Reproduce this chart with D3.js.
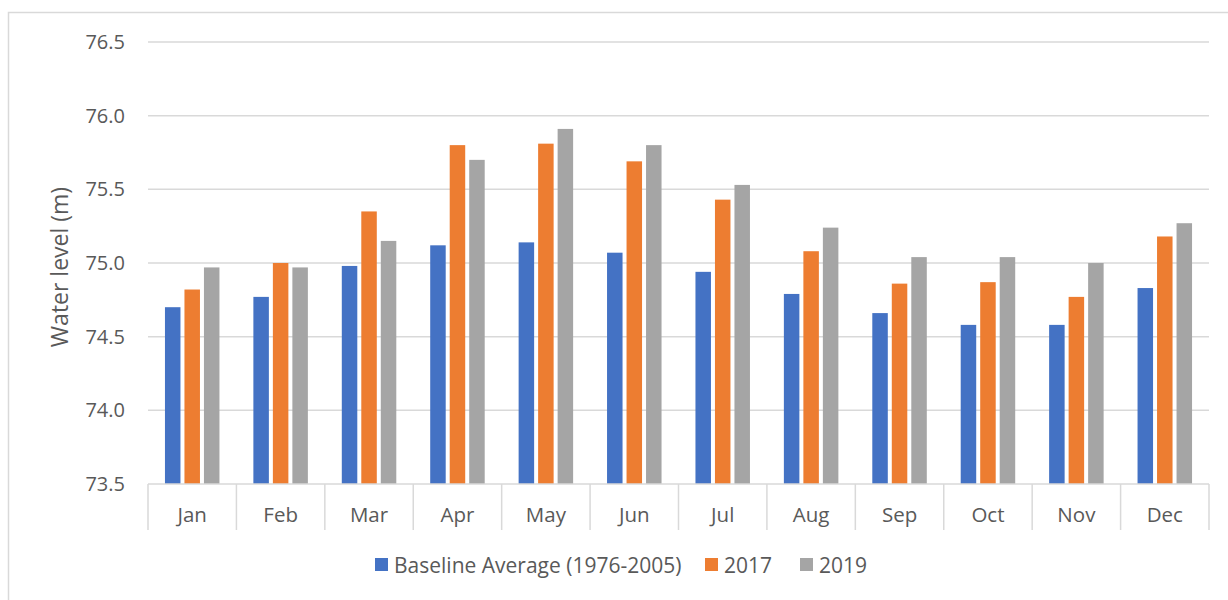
<!DOCTYPE html>
<html>
<head>
<meta charset="utf-8">
<script src="https://cdn.jsdelivr.net/npm/d3@7"></script>
<style>
  body { margin: 0; background: #fff; }
  svg { display: block; font-family: "Open Sans", "Noto Sans", sans-serif; }
</style>
</head>
<body>
<script>
const months = ['Jan', 'Feb', 'Mar', 'Apr', 'May', 'Jun', 'Jul', 'Aug', 'Sep', 'Oct', 'Nov', 'Dec'];
const seriesNames = ['Baseline Average (1976-2005)', '2017', '2019'];
const baseline = [74.70, 74.77, 74.98, 75.12, 75.14, 75.07, 74.94, 74.79, 74.66, 74.58, 74.58, 74.83];
const y2017 = [74.82, 75.00, 75.35, 75.80, 75.81, 75.69, 75.43, 75.08, 74.86, 74.87, 74.77, 75.18];
const y2019 = [74.97, 74.97, 75.15, 75.70, 75.91, 75.80, 75.53, 75.24, 75.04, 75.04, 75.00, 75.27];
const yTicks = [73.5, 74.0, 74.5, 75.0, 75.5, 76.0, 76.5];

const colors = ['#4472C4', '#ED7D31', '#A5A5A5'];
const textColor = '#595959';
const gridColor = '#D9D9D9';

const width = 1228, height = 600;
const plotLeft = 148, plotRight = 1209, plotTop = 42, plotBottom = 484;

// 把三组数据整理成表
const table = months.map((m, i) => ({
  month: m,
  values: [baseline[i], y2017[i], y2019[i]]
}));

const svg = d3.select('body').append('svg')
  .attr('width', width)
  .attr('height', height);

// 外框
svg.append('rect')
  .attr('x', 8.5).attr('y', 12.5)
  .attr('width', width + 20).attr('height', height)
  .attr('fill', 'none')
  .attr('stroke', gridColor)
  .attr('stroke-width', 1.5);

const x = d3.scaleBand().domain(months).range([plotLeft, plotRight]);
const y = d3.scaleLinear().domain([73.5, 76.5]).range([plotBottom, plotTop]);

const barW = 15.5, barStep = 19.5;
const inner = d3.scaleBand().domain(d3.range(3)).range([0, barStep * 3]);

// 网格线
svg.append('g')
  .selectAll('line')
  .data(yTicks.slice(1))
  .enter()
  .append('line')
  .attr('x1', plotLeft).attr('x2', plotRight)
  .attr('y1', d => y(d)).attr('y2', d => y(d))
  .attr('stroke', gridColor)
  .attr('stroke-width', 1.5);

// y 轴文字
const yAxis = svg.append('g')
  .attr('transform', `translate(${plotLeft - 23},0)`)
  .call(d3.axisLeft(y).tickValues(yTicks).tickFormat(d3.format('.1f')).tickSize(0).tickPadding(0));
yAxis.select('.domain').remove();
yAxis.selectAll('text')
  .attr('fill', textColor)
  .attr('font-size', 20)
  .attr('font-family', '"Open Sans", sans-serif');

// 柱子
const groups = svg.append('g')
  .selectAll('g')
  .data(table)
  .enter()
  .append('g')
  .attr('transform', d => `translate(${x(d.month) + x.bandwidth() / 2 - barStep * 1.5},0)`);

groups.selectAll('rect')
  .data(d => d.values)
  .enter()
  .append('rect')
  .attr('x', (d, i) => inner(i) + (barStep - barW) / 2)
  .attr('y', d => y(d))
  .attr('width', barW)
  .attr('height', d => y(73.5) - y(d))
  .attr('fill', (d, i) => colors[i]);

// x 轴
const xAxis = svg.append('g')
  .attr('transform', `translate(0,${plotBottom})`);
xAxis.append('line')
  .attr('x1', plotLeft).attr('x2', plotRight)
  .attr('stroke', gridColor).attr('stroke-width', 1.5);
xAxis.selectAll('.sep')
  .data(months.concat(['end']))
  .enter()
  .append('line')
  .attr('class', 'sep')
  .attr('x1', (d, i) => i < 12 ? x(d) : plotRight)
  .attr('x2', (d, i) => i < 12 ? x(d) : plotRight)
  .attr('y1', 0).attr('y2', 46)
  .attr('stroke', gridColor).attr('stroke-width', 1.5);
xAxis.selectAll('.lbl')
  .data(months)
  .enter()
  .append('text')
  .attr('class', 'lbl')
  .attr('x', d => x(d) + x.bandwidth() / 2)
  .attr('y', 38)
  .attr('text-anchor', 'middle')
  .attr('fill', textColor)
  .attr('font-size', 20.5)
  .text(d => d);

// y 轴标题
svg.append('text')
  .attr('transform', 'translate(68,267) rotate(-90)')
  .attr('text-anchor', 'middle')
  .attr('fill', textColor)
  .attr('font-size', 23)
  .text('Water level (m)');

// 图例
const legendX = [375, 705, 800];
const legend = svg.append('g')
  .selectAll('g')
  .data(seriesNames)
  .enter()
  .append('g')
  .attr('transform', (d, i) => `translate(${legendX[i]},558)`);
legend.append('rect')
  .attr('width', 13).attr('height', 13)
  .attr('fill', (d, i) => colors[i]);
legend.append('text')
  .attr('x', 19).attr('y', 14.5)
  .attr('fill', textColor)
  .attr('font-size', 21)
  .text(d => d);
</script>
</body>
</html>
